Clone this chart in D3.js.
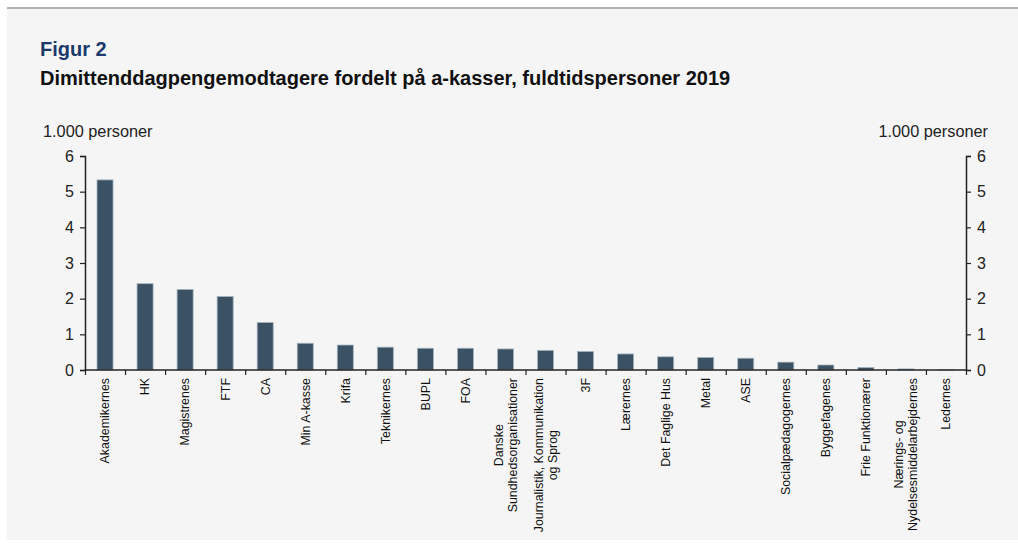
<!DOCTYPE html>
<html>
<head>
<meta charset="utf-8">
<script src="https://cdn.jsdelivr.net/npm/d3@7"></script>
<style>
  body { margin: 0; background: #fff; }
  svg { display: block; font-family: Arial, "Liberation Sans", sans-serif; }
</style>
</head>
<body>
<svg id="chart" width="1018" height="545"></svg>
<script>
// a-kasser, fuldtidspersoner 2019 (1.000 personer)
var kasser = ["Akademikernes", "HK", "Magistrenes", "FTF", "CA", "Min A-kasse", "Krifa",
    "Teknikernes", "BUPL", "FOA", "Danske\nSundhedsorganisationer",
    "Journalistik, Kommunikation\nog Sprog", "3F", "Lærernes", "Det Faglige Hus", "Metal",
    "ASE", "Socialpædagogernes", "Byggefagenes", "Frie Funktionærer",
    "Nærings- og\nNydelsesmiddelarbejdernes", "Ledernes"];
var personer = [5.33, 2.42, 2.26, 2.06, 1.33, 0.75, 0.70, 0.64, 0.61, 0.61, 0.59,
    0.55, 0.52, 0.45, 0.37, 0.35, 0.33, 0.22, 0.14, 0.07, 0.03, 0.005];
var yTicks = [0, 1, 2, 3, 4, 5, 6];

var svg = d3.select("#chart");

// baggrund
svg.append("rect").attr("x", 7).attr("y", 9).attr("width", 1011).attr("height", 531)
    .attr("fill", "#f5f5f5");
svg.append("line").attr("x1", 7).attr("x2", 1018).attr("y1", 8).attr("y2", 8)
    .attr("stroke", "#b3b3b3").attr("stroke-width", 2);

svg.append("text").attr("x", 40).attr("y", 56)
    .attr("font-size", 20).attr("font-weight", "bold").attr("fill", "#1b3a6b")
    .text("Figur 2");
svg.append("text").attr("x", 40).attr("y", 85)
    .attr("font-size", 20).attr("font-weight", "bold").attr("fill", "#111")
    .text("Dimittenddagpengemodtagere fordelt på a-kasser, fuldtidspersoner 2019");

var pLeft = 85, pRight = 966, pTop = 156, pBottom = 370;

var x = d3.scaleBand()
    .domain(d3.range(kasser.length))
    .range([pLeft, pRight])
    .paddingInner(0.6)
    .paddingOuter(0.3);

var y = d3.scaleLinear().domain([0, 6]).range([pBottom, pTop]);

// bars
svg.append("g").selectAll("rect")
    .data(personer)
    .enter().append("rect")
    .attr("x", function (d, i) { return x(i); })
    .attr("y", function (d) { return y(d); })
    .attr("width", x.bandwidth())
    .attr("height", function (d) { return y(0) - y(d); })
    .attr("fill", "#3b5264")
    .attr("stroke", "#a3b3bf")
    .attr("stroke-width", 0.8);

// akser
var yLeft = svg.append("g").attr("transform", "translate(" + pLeft + ",0)")
    .call(d3.axisLeft(y).tickValues(yTicks).tickFormat(d3.format("d")).tickSize(5).tickPadding(6));
var yRight = svg.append("g").attr("transform", "translate(" + pRight + ",0)")
    .call(d3.axisRight(y).tickValues(yTicks).tickFormat(d3.format("d")).tickSize(5).tickPadding(6));

var xb = d3.scaleLinear().domain([0, kasser.length]).range([pLeft, pRight]);
var xAxis = svg.append("g").attr("transform", "translate(0," + pBottom + ")")
    .call(d3.axisBottom(xb).tickValues(d3.range(kasser.length + 1)).tickSize(5).tickFormat(""));

[yLeft, yRight, xAxis].forEach(function (a) {
    a.select(".domain").attr("stroke", "#222").attr("stroke-width", 1.5);
    a.selectAll(".tick line").attr("stroke", "#222").attr("stroke-width", 1.2);
    a.selectAll(".tick text").attr("font-size", 16).attr("fill", "#222");
});
xAxis.select(".domain").attr("d", "M" + pLeft + ",0H" + pRight);

svg.append("text").attr("x", 43).attr("y", 137).attr("font-size", 16.3).attr("fill", "#222")
    .text("1.000 personer");
svg.append("text").attr("x", 988).attr("y", 137).attr("font-size", 16.3).attr("fill", "#222")
    .attr("text-anchor", "end").text("1.000 personer");

// kategorinavne, roteret
var labels = svg.append("g").selectAll("g")
    .data(kasser)
    .enter().append("g")
    .attr("transform", function (d, i) {
        return "translate(" + (x(i) + x.bandwidth() / 2) + "," + (pBottom + 8) + ") rotate(-90)";
    });

labels.each(function (d) {
    var g = d3.select(this);
    var lines = d.split("\n");
    var texts = lines.map(function (l, j) {
        return g.append("text")
            .attr("font-size", 12.4)
            .attr("fill", "#111")
            .attr("text-anchor", "middle")
            .attr("y", (j - (lines.length - 1) / 2) * 14)
            .attr("dy", "0.35em")
            .text(l);
    });
    var maxLen = d3.max(texts, function (t) { return t.node().getComputedTextLength(); });
    texts.forEach(function (t) { t.attr("x", -maxLen / 2); });
});
</script>
</body>
</html>
